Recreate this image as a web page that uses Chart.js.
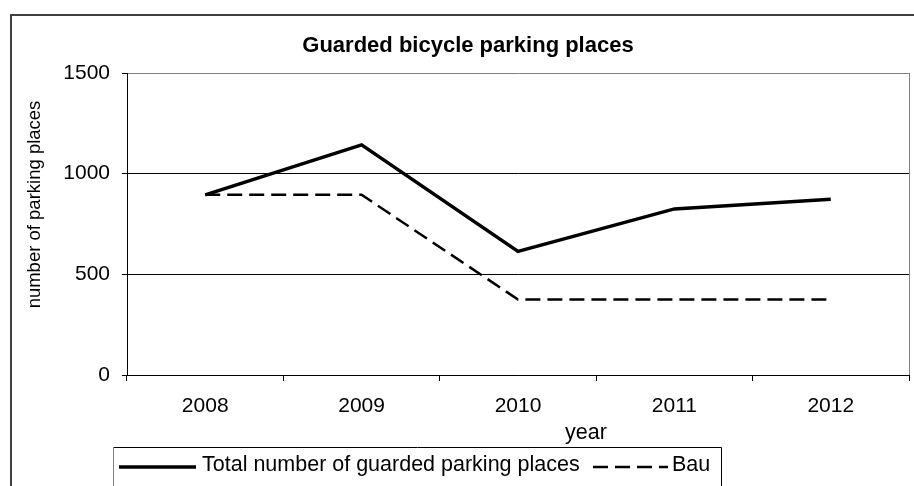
<!DOCTYPE html>
<html>
<head>
<meta charset="utf-8">
<script src="https://cdn.jsdelivr.net/npm/chart.js@4.4.1/dist/chart.umd.min.js"></script>
<style>
  html, body { margin: 0; padding: 0; background: #fff; }
  canvas { display: block; }
</style>
</head>
<body>
<canvas id="c" width="914" height="486"></canvas>
<script>
const years = ['2008', '2009', '2010', '2011', '2012'];
const totalPlaces = [895, 1143, 614, 825, 873];
const bauPlaces = [895, 895, 375, 375, 375];
const seriesNames = ['Total number of guarded parking places', 'Bau'];
const chartTitle = 'Guarded bicycle parking places';
const xAxisTitle = 'year';
const yAxisTitle = 'number of parking places';

const FONT = "'Liberation Sans', Arial, sans-serif";

const decor = {
  id: 'decor',
  beforeDraw(chart) {
    const ctx = chart.ctx;
    ctx.save();
    ctx.fillStyle = '#fff';
    ctx.fillRect(0, 0, chart.width, chart.height);
    // outer frame
    ctx.strokeStyle = '#404040';
    ctx.lineWidth = 2;
    ctx.beginPath();
    ctx.moveTo(11, 490);
    ctx.lineTo(11, 15);
    ctx.lineTo(920, 15);
    ctx.stroke();
    ctx.restore();
  },
  afterDraw(chart) {
    const ctx = chart.ctx;
    const a = chart.chartArea;
    ctx.save();
    // plot area right border
    ctx.strokeStyle = '#808080';
    ctx.lineWidth = 1;
    ctx.beginPath();
    ctx.moveTo(Math.round(a.right) + 0.5, a.top);
    ctx.lineTo(Math.round(a.right) + 0.5, a.bottom);
    ctx.stroke();

    // title
    ctx.fillStyle = '#000';
    ctx.font = 'bold 22px ' + FONT;
    ctx.textAlign = 'center';
    ctx.textBaseline = 'alphabetic';
    ctx.fillText(chartTitle, 468, 52);

    // x axis title
    ctx.font = '21.5px ' + FONT;
    ctx.fillText(xAxisTitle, 586, 439);

    // y axis title
    ctx.save();
    ctx.translate(40, 204.5);
    ctx.rotate(-Math.PI / 2);
    ctx.font = '18.5px ' + FONT;
    ctx.textAlign = 'center';
    ctx.fillText(yAxisTitle, 0, 0);
    ctx.restore();

    // legend box
    ctx.lineWidth = 1;
    ctx.strokeStyle = '#000';
    ctx.beginPath();
    ctx.moveTo(113.5, 447.5);
    ctx.lineTo(721.5, 447.5);
    ctx.lineTo(721.5, 490);
    ctx.stroke();
    ctx.strokeStyle = '#808080';
    ctx.beginPath();
    ctx.moveTo(113.5, 447.5);
    ctx.lineTo(113.5, 490);
    ctx.stroke();

    const ds = chart.data.datasets;
    // legend item 1
    ctx.strokeStyle = ds[0].borderColor;
    ctx.lineWidth = ds[0].borderWidth;
    ctx.setLineDash([]);
    ctx.beginPath();
    ctx.moveTo(119, 467);
    ctx.lineTo(196, 467);
    ctx.stroke();
    ctx.fillStyle = '#000';
    ctx.font = '21.5px ' + FONT;
    ctx.textAlign = 'left';
    ctx.textBaseline = 'alphabetic';
    ctx.fillText(ds[0].label, 202, 471);
    // legend item 2
    ctx.strokeStyle = ds[1].borderColor;
    ctx.lineWidth = ds[1].borderWidth;
    ctx.setLineDash(ds[1].borderDash);
    ctx.beginPath();
    ctx.moveTo(593, 467);
    ctx.lineTo(668, 467);
    ctx.stroke();
    ctx.setLineDash([]);
    ctx.fillText(ds[1].label, 672, 471);
    ctx.restore();
  }
};

new Chart(document.getElementById('c'), {
  type: 'line',
  data: {
    labels: years,
    datasets: [
      {
        label: seriesNames[0],
        data: totalPlaces,
        borderColor: '#000',
        borderWidth: 3.5,
        pointRadius: 0,
        tension: 0,
        fill: false
      },
      {
        label: seriesNames[1],
        data: bauPlaces,
        borderColor: '#000',
        borderWidth: 2.5,
        borderDash: [15, 7],
        pointRadius: 0,
        tension: 0,
        fill: false
      }
    ]
  },
  options: {
    responsive: false,
    animation: false,
    devicePixelRatio: 1,
    layout: { padding: { top: 73, right: 5, left: 0, bottom: 0 } },
    plugins: {
      legend: { display: false },
      title: { display: false },
      tooltip: { enabled: false }
    },
    scales: {
      x: {
        offset: true,
        grid: {
          offset: true,
          drawOnChartArea: false,
          drawTicks: true,
          tickLength: 6,
          color: '#000'
        },
        border: { color: '#000', width: 1 },
        ticks: {
          color: '#000',
          font: { family: FONT, size: 21 },
          padding: 13,
          maxRotation: 0
        },
        afterFit(s) { s.height = 111; }
      },
      y: {
        min: 0,
        max: 1500,
        ticks: {
          stepSize: 500,
          color: '#000',
          font: { family: FONT, size: 21 },
          padding: 12,
          callback: (v) => String(v)
        },
        grid: {
          color: (c) => (c.tick && c.tick.value === 1500 ? '#808080' : '#000'),
          tickColor: '#000',
          tickLength: 5,
          lineWidth: 1
        },
        border: { color: '#000', width: 1 },
        afterFit(s) { s.width = 127; }
      }
    }
  },
  plugins: [decor]
});
</script>
</body>
</html>
